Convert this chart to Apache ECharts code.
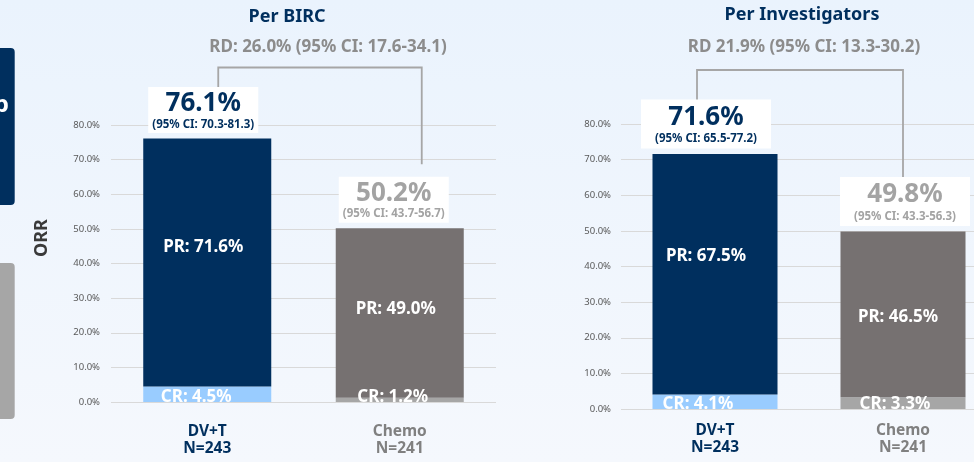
<!DOCTYPE html>
<html>
<head>
<meta charset="utf-8">
<script src="https://cdn.jsdelivr.net/npm/echarts@6/dist/echarts.min.js"></script>
<style>
  html, body { margin: 0; padding: 0; }
  #main { width: 974px; height: 462px; background: linear-gradient(#eaf3fd, #f5f8fd); }
</style>
</head>
<body>
<div id="main"></div>
<script>
// data
const categories = ['DV+T', 'Chemo']
const sampleSizes = ['N=243', 'N=241']
const panelTitles = ['Per BIRC', 'Per Investigators']
const riskDiffs = ['RD: 26.0% (95% CI: 17.6-34.1)', 'RD 21.9% (95% CI: 13.3-30.2)']

const crBIRC = [4.5, 1.2]
const prBIRC = [71.6, 49.0]
const orrBIRC = [76.1, 50.2]
const ciBIRC = ['70.3-81.3', '43.7-56.7']

const crInv = [4.1, 3.3]
const prInv = [67.5, 46.5]
const orrInv = [71.6, 49.8]
const ciInv = ['65.5-77.2', '43.3-56.3']

const yMin = 0
const yMax = 80
const yStep = 10

// style
const font = '"Noto Sans", "Open Sans", sans-serif'
const navy = '#002f5e'
const prColors = [navy, '#767171']
const crColors = ['#99ccff', '#a6a6a6']
const topColors = [navy, '#a3a3a3']

// per panel tweaks (label nudges, box padding)
const layouts = [
  { crDx: [-11, -7], prDx: [-4, -4], prDy: [-15, -4], boxDx: [-4, -6], pad: [2, 4], bigLH: 29, ciLH: 13, xMargin: 21 },
  { crDx: [-17, -8], prDx: [-9, -5], prDy: [-18, 3], boxDx: [-9, 2], pad: [3, 14], bigLH: 30, ciLH: 13, xMargin: 13 }
]

const chart = echarts.init(document.getElementById('main'))

function panel (i, cr, pr, orr, ci) {
  const lay = layouts[i]
  const axis = { xAxisIndex: i, yAxisIndex: i }
  return [
    {
      type: 'bar', ...axis, stack: 'orr' + i, barWidth: '66.5%',
      itemStyle: { color: p => crColors[p.dataIndex] },
      data: cr.map((v, k) => ({ value: v, label: { offset: [lay.crDx[k], 0] } })),
      label: {
        show: true, position: 'insideBottom', distance: -4, color: '#fff',
        fontFamily: font, fontWeight: 'bold', fontSize: 17,
        formatter: p => 'CR: ' + p.value.toFixed(1) + '%'
      }
    },
    {
      type: 'bar', ...axis, stack: 'orr' + i, barWidth: '66.5%',
      itemStyle: { color: p => prColors[p.dataIndex] },
      data: pr.map((v, k) => ({ value: v, label: { offset: [lay.prDx[k], lay.prDy[k]] } })),
      label: {
        show: true, position: 'inside', color: '#fff',
        fontFamily: font, fontWeight: 'bold', fontSize: 17,
        formatter: p => 'PR: ' + p.value.toFixed(1) + '%'
      }
    },
    {
      type: 'scatter', ...axis, symbolSize: 1, z: 4,
      itemStyle: { color: 'rgba(0,0,0,0)', opacity: 1 },
      data: orr.map((v, k) => ({ value: v, label: { color: topColors[k], offset: [lay.boxDx[k], 0] } })),
      label: {
        show: true, position: 'top', distance: 5, backgroundColor: '#fff', opacity: 1,
        padding: lay.pad, align: 'center', fontFamily: font,
        formatter: p => '{big|' + p.value.toFixed(1) + '%}\n{ci|(95% CI: ' + ci[p.dataIndex] + ')}',
        rich: {
          big: { fontFamily: font, fontSize: 26, fontWeight: 'bold', lineHeight: lay.bigLH },
          ci: { fontFamily: font, fontSize: 11.5, fontWeight: 'bold', lineHeight: lay.ciLH }
        }
      }
    }
  ]
}

const option = {
  animation: false,
  grid: [
    { left: 111, top: 125, right: 478, bottom: 60, outerBoundsMode: 'none' },
    { left: 621, top: 124, right: -23, bottom: 53, outerBoundsMode: 'none' }
  ],
  xAxis: [0, 1].map(i => ({
    type: 'category', gridIndex: i, data: categories,
    axisLine: { show: false }, axisTick: { show: false },
    axisLabel: {
      margin: layouts[i].xMargin, fontFamily: font,
      formatter: (v, k) => {
        const s = k ? 'g' : 'n'
        return '{' + s + '|' + v + '}\n{' + s + '|' + sampleSizes[k] + '}'
      },
      rich: {
        n: { color: navy, fontFamily: font, fontSize: 15.5, fontWeight: 'bold', lineHeight: 17 },
        g: { color: '#808080', fontFamily: font, fontSize: 15.5, fontWeight: 'bold', lineHeight: 17 }
      }
    }
  })),
  yAxis: [0, 1].map(i => ({
    type: 'value', gridIndex: i, min: yMin, max: yMax, interval: yStep,
    axisLine: { show: false }, axisTick: { show: false },
    axisLabel: {
      margin: i ? 10 : 11, fontFamily: font, fontSize: 9.5, color: '#595959',
      formatter: v => v.toFixed(1) + '%'
    },
    splitLine: { lineStyle: { color: '#d9d9d9', width: 1 } }
  })),
  series: [
    ...panel(0, crBIRC, prBIRC, orrBIRC, ciBIRC),
    ...panel(1, crInv, prInv, orrInv, ciInv)
  ]
}
chart.setOption(option)

// titles, side tabs and the RD brackets
const txt = (text, x, y, size, color, extra) => ({
  type: 'text', x, y, ...(extra || {}),
  style: { text, fill: color, font: 'bold ' + size + 'px ' + font, align: 'center', verticalAlign: 'middle' }
})

function bracket (i, orr, dx, topY, gaps) {
  const at = k => chart.convertToPixel({ xAxisIndex: i, yAxisIndex: i }, [k, orr[k]])
  const a = at(0)
  const b = at(1)
  const xa = a[0] + dx[0]
  const xb = b[0] + dx[1]
  return {
    type: 'polyline', z: 1,
    shape: { points: [[xa, a[1] - 5 - gaps[0]], [xa, topY], [xb, topY], [xb, b[1] - 5 - gaps[1]]] },
    style: { stroke: '#a6a6a6', lineWidth: 1.8, fill: null }
  }
}

chart.setOption({
  graphic: [
    { type: 'rect', shape: { x: -6, y: 48, width: 20.7, height: 157, r: 4 }, style: { fill: navy } },
    { type: 'rect', shape: { x: -6, y: 263, width: 20.7, height: 156, r: 4 }, style: { fill: '#a6a6a6' } },
    { type: 'text', x: 9, y: 105, style: { text: 'b', fill: '#fff', font: 'bold 24px ' + font, align: 'right', verticalAlign: 'middle' } },
    txt('ORR', 42, 238, 18, '#3a3a3a', { rotation: Math.PI / 2 }),
    txt(panelTitles[0], 287, 17, 18, navy),
    txt(riskDiffs[0], 328, 47, 17, '#8c8c8c'),
    txt(panelTitles[1], 802, 15, 18, navy),
    txt(riskDiffs[1], 804, 47, 17, '#8c8c8c'),
    bracket(0, orrBIRC, [11, 22], 67.5, [20, 59]),
    bracket(1, orrInv, [-18, 0], 70, [20, 20])
  ]
})
</script>
</body>
</html>
